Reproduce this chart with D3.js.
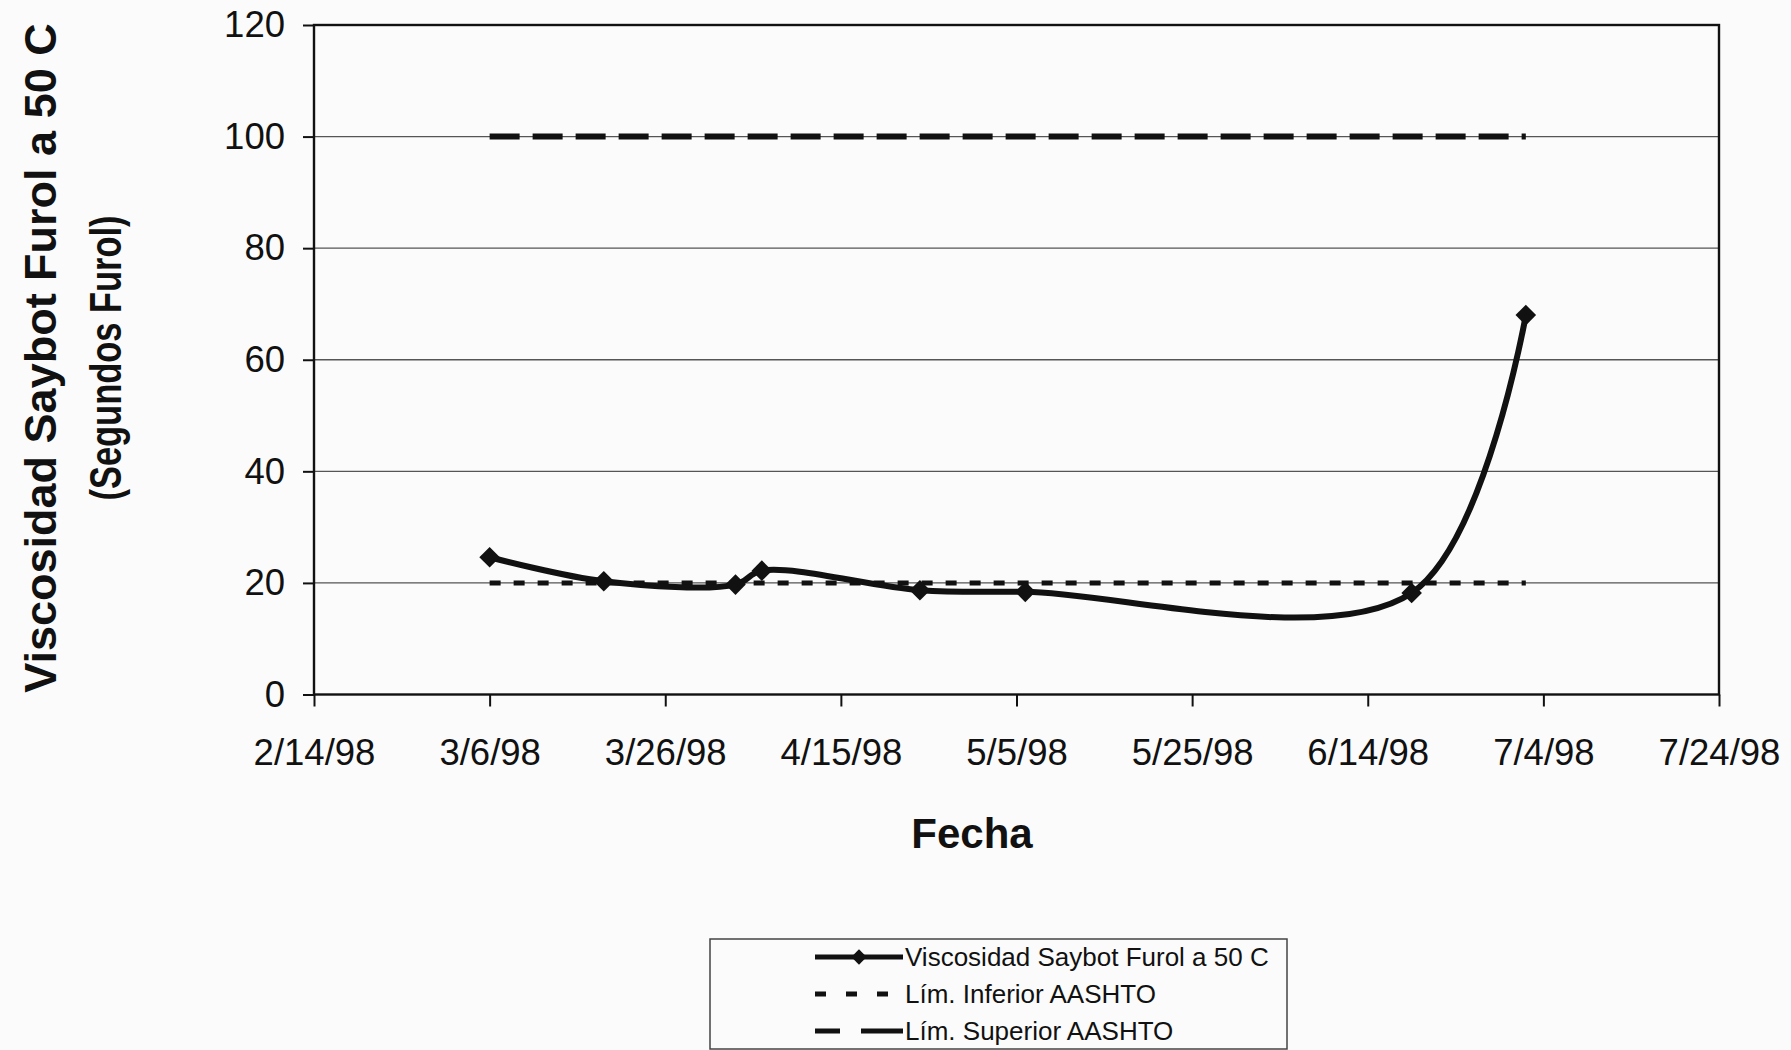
<!DOCTYPE html>
<html><head><meta charset="utf-8">
<script src="https://cdn.jsdelivr.net/npm/d3@7"></script>
<style>
html,body{margin:0;padding:0;background:#fbfbfb;}
svg{display:block;font-family:"Liberation Sans",Arial,sans-serif;}
</style></head>
<body>
<svg id="chart" width="1791" height="1050"></svg>
<script>
// ---- data ----
const sampleDates = ["1998-03-06","1998-03-19","1998-04-03","1998-04-06","1998-04-24","1998-05-06","1998-06-19","1998-07-02"];
const viscosity = [24.6, 20.3, 19.7, 22.2, 18.7, 18.4, 18.2, 68];
const limitDates = ["1998-03-06","1998-07-02"];
const lowerLimit = [20, 20];
const upperLimit = [100, 100];
const xTickDates = ["1998-02-14","1998-03-06","1998-03-26","1998-04-15","1998-05-05","1998-05-25","1998-06-14","1998-07-04","1998-07-24"];
const yTicks = [0, 20, 40, 60, 80, 100, 120];
const seriesNames = ["Viscosidad Saybot Furol a 50 C", "Lím. Inferior AASHTO", "Lím. Superior AASHTO"];

const parse = d3.utcParse("%Y-%m-%d");
const fmt = d3.utcFormat("%-m/%-d/%y");

const svg = d3.select("#chart");
const L = 314, R = 1719, T = 25, B = 694.5;

const x = d3.scaleUtc().domain([parse(xTickDates[0]), parse(xTickDates[xTickDates.length-1])]).range([L, R]);
const y = d3.scaleLinear().domain([0, 120]).range([B, T]);

// gridlines
svg.append("g").selectAll("line").data(yTicks.filter(v => v > 0 && v < 120)).join("line")
  .attr("x1", L).attr("x2", R).attr("y1", d => y(d)).attr("y2", d => y(d))
  .attr("stroke", "#555").attr("stroke-width", 1.3);

// axes
const yAxis = svg.append("g").attr("transform", `translate(${L},0)`)
  .call(d3.axisLeft(y).tickValues(yTicks).tickSize(11).tickPadding(18));
const xAxis = svg.append("g").attr("transform", `translate(0,${B})`)
  .call(d3.axisBottom(x).tickValues(xTickDates.map(parse)).tickFormat(fmt).tickSize(12).tickPadding(33));
[yAxis, xAxis].forEach(g => {
  g.select(".domain").remove();
  g.selectAll(".tick line").attr("stroke", "#111").attr("stroke-width", 2);
  g.selectAll("text").attr("fill", "#111").style("font-size", "36.5px").style("font-family", "Liberation Sans, Arial, sans-serif");
});

// plot border
svg.append("rect").attr("x", L).attr("y", T).attr("width", R - L).attr("height", B - T)
  .attr("fill", "none").attr("stroke", "#111").attr("stroke-width", 2.4);

// limit lines
const limLine = d3.line().x(d => x(d[0])).y(d => y(d[1]));
svg.append("path").datum(limitDates.map((d, i) => [parse(d), lowerLimit[i]]))
  .attr("d", limLine).attr("fill", "none").attr("stroke", "#111")
  .attr("stroke-width", 5).attr("stroke-dasharray", "11,13");
svg.append("path").datum(limitDates.map((d, i) => [parse(d), upperLimit[i]]))
  .attr("d", limLine).attr("fill", "none").attr("stroke", "#111")
  .attr("stroke-width", 6).attr("stroke-dasharray", "30,13");

// data line (smoothed)
const pts = sampleDates.map((d, i) => [parse(d), viscosity[i]]);
svg.append("path").datum(pts)
  .attr("d", d3.line().x(d => x(d[0])).y(d => y(d[1])).curve(d3.curveCatmullRom.alpha(0.5)))
  .attr("fill", "none").attr("stroke", "#111").attr("stroke-width", 6).attr("stroke-linejoin", "round");
const diamond = d3.symbol().type(d3.symbolDiamond2).size(270);
svg.append("g").selectAll("path").data(pts).join("path")
  .attr("transform", d => `translate(${x(d[0])},${y(d[1])})`)
  .attr("d", diamond).attr("fill", "#111");

// axis titles
svg.append("text").attr("x", 972).attr("y", 848).attr("text-anchor", "middle")
  .style("font-size", "42px").style("font-weight", "bold").attr("fill", "#111").text("Fecha");
svg.append("text").attr("transform", "translate(56,358) rotate(-90)").attr("text-anchor", "middle")
  .style("font-size", "45px").style("font-weight", "bold").attr("fill", "#111").text("Viscosidad Saybot Furol a 50 C");
svg.append("text").attr("transform", "translate(121,358) rotate(-90)").attr("text-anchor", "middle")
  .attr("textLength", 285).attr("lengthAdjust", "spacingAndGlyphs")
  .style("font-size", "44px").style("font-weight", "bold").attr("fill", "#111").text("(Segundos Furol)");

// legend
const lg = svg.append("g");
lg.append("rect").attr("x", 710).attr("y", 939).attr("width", 577).attr("height", 110)
  .attr("fill", "none").attr("stroke", "#444").attr("stroke-width", 1.5);
const rowY = [957, 994, 1031];
const sx0 = 815, sx1 = 903;
lg.append("line").attr("x1", sx0).attr("x2", sx1).attr("y1", rowY[0]).attr("y2", rowY[0]).attr("stroke", "#111").attr("stroke-width", 5);
lg.append("path").attr("transform", `translate(${(sx0+sx1)/2},${rowY[0]})`).attr("d", d3.symbol().type(d3.symbolDiamond2).size(150)).attr("fill", "#111");
lg.append("line").attr("x1", sx0).attr("x2", sx1 - 15).attr("y1", rowY[1]).attr("y2", rowY[1]).attr("stroke", "#111").attr("stroke-width", 5).attr("stroke-dasharray", "11,20");
lg.append("line").attr("x1", sx0).attr("x2", sx1).attr("y1", rowY[2]).attr("y2", rowY[2]).attr("stroke", "#111").attr("stroke-width", 5).attr("stroke-dasharray", "25,21,60");
lg.selectAll("text").data(seriesNames).join("text")
  .attr("x", 905).attr("y", (d, i) => rowY[i]).attr("dy", "0.35em")
  .style("font-size", "26px").attr("fill", "#111").text(d => d);
</script>
</body></html>
